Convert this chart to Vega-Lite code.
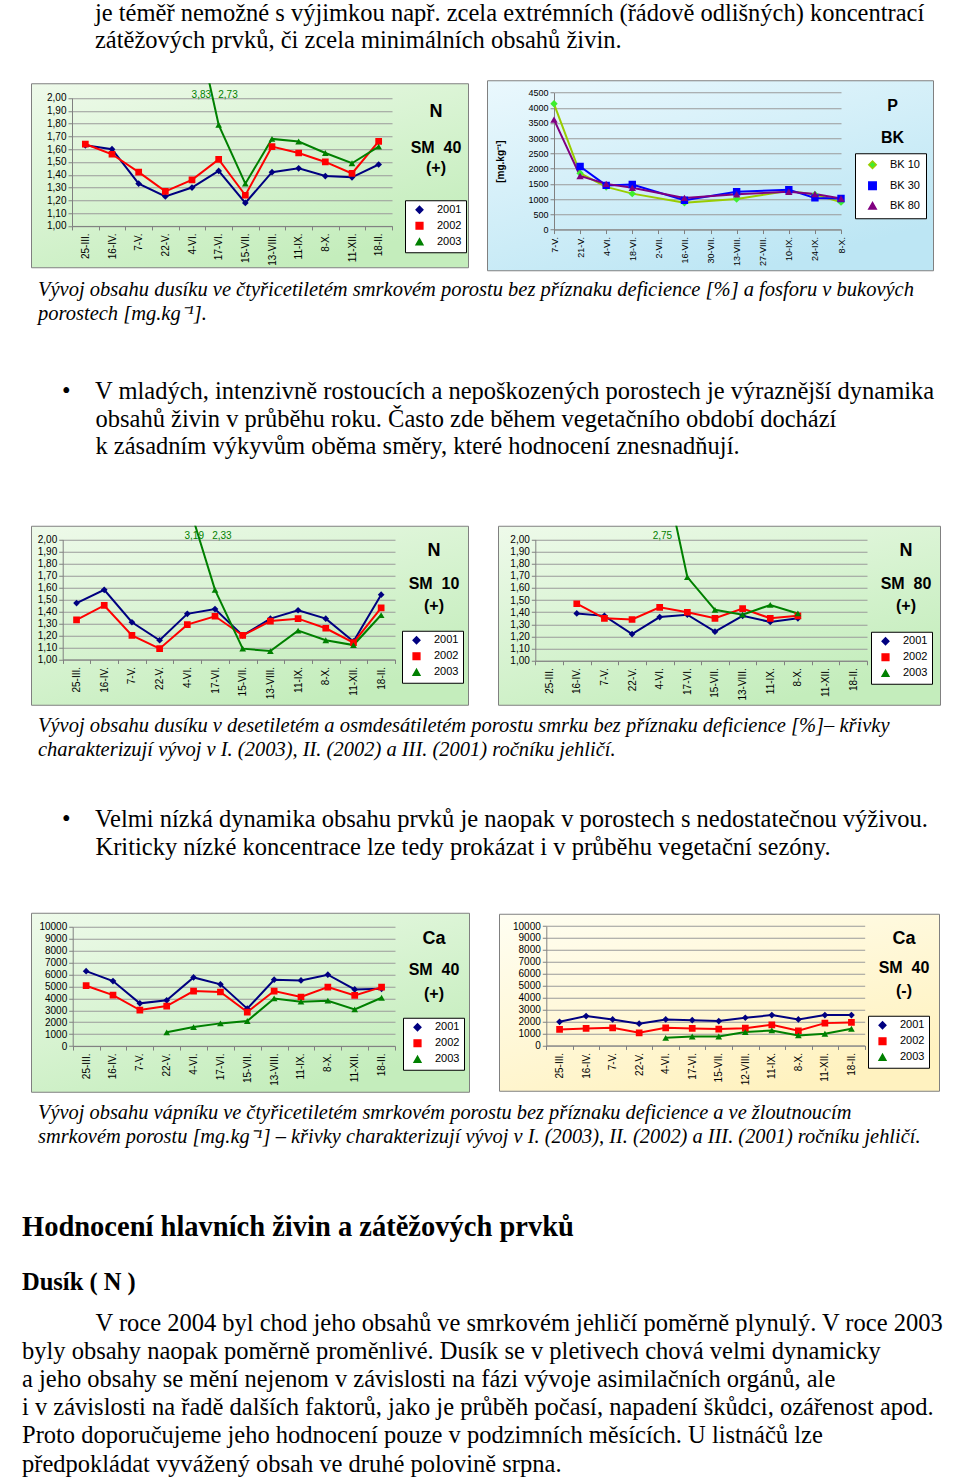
{
"$schema": "https://vega.github.io/schema/vega-lite/v6.json",
"background": "white",
"padding": {"left": 22, "top": 1, "right": 0, "bottom": 0},
"autosize": {"type": "pad"},
"config": {"view": {"stroke": null}, "font": "Liberation Sans", "locale": {"number": {"decimal": ",", "thousands": "\u00a0", "grouping": [3], "currency": ["", " Kč"]}}},
"datasets": {
"n40": [
{"d":"25-III.","s":"2001","v":1.63},{"d":"16-IV.","s":"2001","v":1.6},{"d":"7-V.","s":"2001","v":1.33},{"d":"22-V.","s":"2001","v":1.23},{"d":"4-VI.","s":"2001","v":1.3},{"d":"17-VI.","s":"2001","v":1.43},{"d":"15-VII.","s":"2001","v":1.18},{"d":"13-VIII.","s":"2001","v":1.42},{"d":"11-IX.","s":"2001","v":1.45},{"d":"8-X.","s":"2001","v":1.39},{"d":"11-XII.","s":"2001","v":1.38},{"d":"18-II.","s":"2001","v":1.48},
{"d":"25-III.","s":"2002","v":1.64},{"d":"16-IV.","s":"2002","v":1.56},{"d":"7-V.","s":"2002","v":1.42},{"d":"22-V.","s":"2002","v":1.27},{"d":"4-VI.","s":"2002","v":1.36},{"d":"17-VI.","s":"2002","v":1.52},{"d":"15-VII.","s":"2002","v":1.24},{"d":"13-VIII.","s":"2002","v":1.62},{"d":"11-IX.","s":"2002","v":1.57},{"d":"8-X.","s":"2002","v":1.5},{"d":"11-XII.","s":"2002","v":1.41},{"d":"18-II.","s":"2002","v":1.66},
{"d":"22-V.","s":"2003","v":3.83},{"d":"4-VI.","s":"2003","v":2.73},{"d":"17-VI.","s":"2003","v":1.79},{"d":"15-VII.","s":"2003","v":1.33},{"d":"13-VIII.","s":"2003","v":1.68},{"d":"11-IX.","s":"2003","v":1.66},{"d":"8-X.","s":"2003","v":1.57},{"d":"11-XII.","s":"2003","v":1.49},{"d":"18-II.","s":"2003","v":1.62}
],
"p": [
{"d":"7-V.","s":"BK 10","v":4130},{"d":"21-V.","s":"BK 10","v":1850},{"d":"4-VI.","s":"BK 10","v":1400},{"d":"18-VI.","s":"BK 10","v":1180},{"d":"16-VII.","s":"BK 10","v":880},{"d":"13-VIII.","s":"BK 10","v":1000},{"d":"10-IX.","s":"BK 10","v":1270},{"d":"24-IX.","s":"BK 10","v":1150},{"d":"8-X.","s":"BK 10","v":900},
{"d":"21-V.","s":"BK 30","v":2070},{"d":"4-VI.","s":"BK 30","v":1450},{"d":"18-VI.","s":"BK 30","v":1480},{"d":"16-VII.","s":"BK 30","v":960},{"d":"13-VIII.","s":"BK 30","v":1240},{"d":"10-IX.","s":"BK 30","v":1310},{"d":"24-IX.","s":"BK 30","v":1040},{"d":"8-X.","s":"BK 30","v":1020},
{"d":"7-V.","s":"BK 80","v":3610},{"d":"21-V.","s":"BK 80","v":1760},{"d":"4-VI.","s":"BK 80","v":1500},{"d":"18-VI.","s":"BK 80","v":1370},{"d":"16-VII.","s":"BK 80","v":1040},{"d":"13-VIII.","s":"BK 80","v":1160},{"d":"10-IX.","s":"BK 80","v":1240},{"d":"24-IX.","s":"BK 80","v":1170},{"d":"8-X.","s":"BK 80","v":1020}
],
"n10": [
{"d":"25-III.","s":"2001","v":1.47},{"d":"16-IV.","s":"2001","v":1.58},{"d":"7-V.","s":"2001","v":1.31},{"d":"22-V.","s":"2001","v":1.16},{"d":"4-VI.","s":"2001","v":1.38},{"d":"17-VI.","s":"2001","v":1.42},{"d":"15-VII.","s":"2001","v":1.2},{"d":"13-VIII.","s":"2001","v":1.34},{"d":"11-IX.","s":"2001","v":1.41},{"d":"8-X.","s":"2001","v":1.34},{"d":"11-XII.","s":"2001","v":1.15},{"d":"18-II.","s":"2001","v":1.54},
{"d":"25-III.","s":"2002","v":1.33},{"d":"16-IV.","s":"2002","v":1.45},{"d":"7-V.","s":"2002","v":1.2},{"d":"22-V.","s":"2002","v":1.09},{"d":"4-VI.","s":"2002","v":1.29},{"d":"17-VI.","s":"2002","v":1.36},{"d":"15-VII.","s":"2002","v":1.2},{"d":"13-VIII.","s":"2002","v":1.32},{"d":"11-IX.","s":"2002","v":1.34},{"d":"8-X.","s":"2002","v":1.26},{"d":"11-XII.","s":"2002","v":1.14},{"d":"18-II.","s":"2002","v":1.43},
{"d":"22-V.","s":"2003","v":3.19},{"d":"4-VI.","s":"2003","v":2.33},{"d":"17-VI.","s":"2003","v":1.58},{"d":"15-VII.","s":"2003","v":1.09},{"d":"13-VIII.","s":"2003","v":1.07},{"d":"11-IX.","s":"2003","v":1.24},{"d":"8-X.","s":"2003","v":1.16},{"d":"11-XII.","s":"2003","v":1.12},{"d":"18-II.","s":"2003","v":1.37}
],
"n80": [
{"d":"16-IV.","s":"2001","v":1.39},{"d":"7-V.","s":"2001","v":1.37},{"d":"22-V.","s":"2001","v":1.22},{"d":"4-VI.","s":"2001","v":1.36},{"d":"17-VI.","s":"2001","v":1.38},{"d":"15-VII.","s":"2001","v":1.24},{"d":"13-VIII.","s":"2001","v":1.37},{"d":"11-IX.","s":"2001","v":1.32},{"d":"8-X.","s":"2001","v":1.35},
{"d":"16-IV.","s":"2002","v":1.47},{"d":"7-V.","s":"2002","v":1.35},{"d":"22-V.","s":"2002","v":1.34},{"d":"4-VI.","s":"2002","v":1.44},{"d":"17-VI.","s":"2002","v":1.4},{"d":"15-VII.","s":"2002","v":1.35},{"d":"13-VIII.","s":"2002","v":1.43},{"d":"11-IX.","s":"2002","v":1.35},{"d":"8-X.","s":"2002","v":1.37},
{"d":"4-VI.","s":"2003","v":2.75},{"d":"17-VI.","s":"2003","v":1.69},{"d":"15-VII.","s":"2003","v":1.42},{"d":"13-VIII.","s":"2003","v":1.38},{"d":"11-IX.","s":"2003","v":1.46},{"d":"8-X.","s":"2003","v":1.39}
],
"ca40p": [
{"d":"25-III.","s":"2001","v":6280},{"d":"16-IV.","s":"2001","v":5450},{"d":"7-V.","s":"2001","v":3580},{"d":"22-V.","s":"2001","v":3830},{"d":"4-VI.","s":"2001","v":5750},{"d":"17-VI.","s":"2001","v":5170},{"d":"15-VII.","s":"2001","v":3130},{"d":"13-VIII.","s":"2001","v":5560},{"d":"11-IX.","s":"2001","v":5500},{"d":"8-X.","s":"2001","v":5980},{"d":"11-XII.","s":"2001","v":4750},{"d":"18-II.","s":"2001","v":4800},
{"d":"25-III.","s":"2002","v":5060},{"d":"16-IV.","s":"2002","v":4270},{"d":"7-V.","s":"2002","v":3020},{"d":"22-V.","s":"2002","v":3350},{"d":"4-VI.","s":"2002","v":4610},{"d":"17-VI.","s":"2002","v":4530},{"d":"15-VII.","s":"2002","v":2850},{"d":"13-VIII.","s":"2002","v":4610},{"d":"11-IX.","s":"2002","v":4110},{"d":"8-X.","s":"2002","v":4940},{"d":"11-XII.","s":"2002","v":4250},{"d":"18-II.","s":"2002","v":4940},
{"d":"22-V.","s":"2003","v":1150},{"d":"4-VI.","s":"2003","v":1590},{"d":"17-VI.","s":"2003","v":1900},{"d":"15-VII.","s":"2003","v":2100},{"d":"13-VIII.","s":"2003","v":3990},{"d":"11-IX.","s":"2003","v":3720},{"d":"8-X.","s":"2003","v":3800},{"d":"11-XII.","s":"2003","v":3070},{"d":"18-II.","s":"2003","v":4050}
],
"ca40m": [
{"d":"25-III.","s":"2001","v":1980},{"d":"16-IV.","s":"2001","v":2460},{"d":"7-V.","s":"2001","v":2180},{"d":"22-V.","s":"2001","v":1820},{"d":"4-VI.","s":"2001","v":2180},{"d":"17-VI.","s":"2001","v":2120},{"d":"15-VII.","s":"2001","v":2040},{"d":"12-VIII.","s":"2001","v":2320},{"d":"11-IX.","s":"2001","v":2540},{"d":"8-X.","s":"2001","v":2180},{"d":"11-XII.","s":"2001","v":2540},{"d":"18-II.","s":"2001","v":2540},
{"d":"25-III.","s":"2002","v":1340},{"d":"16-IV.","s":"2002","v":1430},{"d":"7-V.","s":"2002","v":1480},{"d":"22-V.","s":"2002","v":1060},{"d":"4-VI.","s":"2002","v":1480},{"d":"17-VI.","s":"2002","v":1430},{"d":"15-VII.","s":"2002","v":1370},{"d":"12-VIII.","s":"2002","v":1450},{"d":"11-IX.","s":"2002","v":1730},{"d":"8-X.","s":"2002","v":1230},{"d":"11-XII.","s":"2002","v":1870},{"d":"18-II.","s":"2002","v":1930},
{"d":"4-VI.","s":"2003","v":640},{"d":"17-VI.","s":"2003","v":750},{"d":"15-VII.","s":"2003","v":750},{"d":"12-VIII.","s":"2003","v":1120},{"d":"11-IX.","s":"2003","v":1260},{"d":"8-X.","s":"2003","v":840},{"d":"11-XII.","s":"2003","v":980},{"d":"18-II.","s":"2003","v":1400}
]
},
"resolve": {"scale": {"fill": "independent", "shape": "independent", "stroke": "independent", "color": "independent"}},
"spacing": 45.5,
"vconcat": [
  {
    "resolve": {"scale": {"fill": "independent", "shape": "independent", "stroke": "independent", "color": "independent"}},
    "spacing": 53.5,
    "vconcat": [
      {
        "resolve": {"scale": {"fill": "independent", "shape": "independent", "stroke": "independent", "color": "independent"}},
        "title": {"text": ["je téměř nemožné s výjimkou např. zcela extrémních (řádově odlišných) koncentrací", "zátěžových prvků, či zcela minimálních obsahů živin."], "orient": "top", "anchor": "start", "frame": "group", "font": "Liberation Serif", "fontSize": 24.5, "fontWeight": "normal", "color": "black", "lineHeight": 26.7, "offset": 26.3, "dx": 64},
        "vconcat": [
          {
            "resolve": {"scale": {"fill": "independent", "shape": "independent", "stroke": "independent", "color": "independent"}},
            "title": {"text": ["Vývoj obsahu dusíku ve čtyřicetiletém smrkovém porostu bez příznaku deficience [%] a fosforu v bukových", "porostech [mg.kg⁻¹]."], "orient": "bottom", "anchor": "start", "frame": "group", "font": "Liberation Serif", "fontSize": 20.5, "fontStyle": "italic", "fontWeight": "normal", "color": "black", "lineHeight": 24, "offset": 9.3, "dx": 7},
            "spacing": 17,
            "center": true,
            "hconcat": [
              {
                "width": 437, "height": 184,
                "view": {"fill": {"gradient": "linear", "x1": 0, "y1": 0, "x2": 0.6, "y2": 1, "stops": [{"offset": 0, "color": "#eefaea"}, {"offset": 1, "color": "#c4edbc"}]}, "stroke": "#808080"},
                "title": {"text": "N", "subtitle": ["SM \u00a040", "(+)"], "orient": "top", "anchor": "end", "align": "center", "frame": "group", "dx": -32, "offset": -92.7, "font": "Liberation Sans", "fontSize": 18, "fontWeight": "bold", "color": "black", "subtitleFont": "Liberation Sans", "subtitleFontSize": 16, "subtitleFontWeight": "bold", "subtitleColor": "black", "subtitlePadding": 19.3, "subtitleLineHeight": 20},
                "data": {"name": "n40"},
                "encoding": {
                  "x": {"field": "d", "type": "nominal", "sort": ["25-III.","16-IV.","7-V.","22-V.","4-VI.","17-VI.","15-VII.","13-VIII.","11-IX.","8-X.","11-XII.","18-II."], "scale": {"type": "band", "domain": ["25-III.","16-IV.","7-V.","22-V.","4-VI.","17-VI.","15-VII.","13-VIII.","11-IX.","8-X.","11-XII.","18-II."], "range": [41, 361], "paddingInner": 0, "paddingOuter": 0}, "axis": {"orient": "bottom", "offset": -41.3, "labelAngle": -90, "labelFont": "Liberation Sans", "labelFontSize": 10, "labelColor": "black", "labelPadding": 3, "tickBand": "extent", "tickSize": 4, "tickColor": "#808080", "domainColor": "#808080", "grid": false, "title": null, "labelOverlap": false}},
                  "y": {"field": "v", "type": "quantitative", "scale": {"domain": [1, 2], "range": [142.7, 14.7], "nice": false, "zero": false}, "axis": {"orient": "left", "offset": -41, "values": [1,1.1,1.2,1.3,1.4,1.5,1.6,1.7,1.8,1.9,2], "labelExpr": "replace(format(datum.value, '.2f'), '.', ',')", "labelFont": "Liberation Sans", "labelFontSize": 10, "labelColor": "black", "labelPadding": 2, "tickSize": 4, "tickColor": "#808080", "domainColor": "#808080", "grid": true, "gridColor": "#9a9a9a", "title": null, "labelOverlap": false}}
                },
                "layer": [
                  {"mark": {"type": "line", "clip": true, "strokeWidth": 2}, "encoding": {"stroke": {"field": "s", "type": "nominal", "scale": {"domain": ["2001","2002","2003"], "range": ["#000080","#ff0000","#008000"]}, "legend": {"orient": "none", "legendX": 374, "legendY": 117, "title": null, "fillColor": "white", "strokeColor": "black", "padding": 4, "rowPadding": 3, "symbolSize": 45, "symbolOffset": 5, "labelOffset": 12, "labelFontSize": 11, "labelColor": "black"}}}},
                  {"mark": {"type": "point", "filled": true, "clip": true, "size": 45, "opacity": 1}, "encoding": {"fill": {"field": "s", "type": "nominal", "scale": {"domain": ["2001","2002","2003"], "range": ["#000080","#ff0000","#008000"]}, "legend": null}, "shape": {"field": "s", "type": "nominal", "scale": {"domain": ["2001","2002","2003"], "range": ["diamond","square","triangle-up"]}, "legend": null}}},
                  {"transform": [{"filter": "datum.v > 2"}], "mark": {"type": "text", "fontSize": 10, "fill": "#008000", "align": "center", "baseline": "alphabetic"}, "encoding": {
                    "x": {"field": "d", "type": "nominal", "bandPosition": 1.85, "sort": ["25-III.","16-IV.","7-V.","22-V.","4-VI.","17-VI.","15-VII.","13-VIII.","11-IX.","8-X.","11-XII.","18-II."], "scale": {"type": "band", "domain": ["25-III.","16-IV.","7-V.","22-V.","4-VI.","17-VI.","15-VII.","13-VIII.","11-IX.","8-X.","11-XII.","18-II."], "range": [41, 361], "paddingInner": 0, "paddingOuter": 0}, "axis": {"orient": "bottom", "offset": -41.3, "labelAngle": -90, "labelFont": "Liberation Sans", "labelFontSize": 10, "labelColor": "black", "labelPadding": 3, "tickBand": "extent", "tickSize": 4, "tickColor": "#808080", "domainColor": "#808080", "grid": false, "title": null, "labelOverlap": false}},
                    "y": {"datum": 2},
                    "text": {"field": "v", "type": "quantitative", "format": ".2f"}}}
                ]
              },
              {
                "width": 446, "height": 190,
                "view": {"fill": {"gradient": "linear", "x1": 0, "y1": 0, "x2": 0.6, "y2": 1, "stops": [{"offset": 0, "color": "#eaf8fd"}, {"offset": 1, "color": "#bde6f4"}]}, "stroke": "#808080"},
                "title": {"text": "P", "subtitle": "BK", "orient": "top", "anchor": "end", "align": "center", "frame": "group", "dx": -40.5, "offset": -65.7, "font": "Liberation Sans", "fontSize": 16, "fontWeight": "bold", "color": "black", "subtitleFont": "Liberation Sans", "subtitleFontSize": 16, "subtitleFontWeight": "bold", "subtitleColor": "black", "subtitlePadding": 16},
                "data": {"name": "p"},
                "encoding": {
                  "x": {"field": "d", "type": "nominal", "sort": ["7-V.","21-V.","4-VI.","18-VI.","2-VII.","16-VII.","30-VII.","13-VIII.","27-VIII.","10-IX.","24-IX.","8-X."], "scale": {"type": "point", "domain": ["7-V.","21-V.","4-VI.","18-VI.","2-VII.","16-VII.","30-VII.","13-VIII.","27-VIII.","10-IX.","24-IX.","8-X."], "range": [67, 354], "padding": 0}, "axis": {"orient": "bottom", "offset": -40.7, "labelAngle": -90, "labelFont": "Liberation Sans", "labelFontSize": 9, "labelColor": "black", "labelPadding": 3, "tickSize": 4, "tickColor": "#808080", "domainColor": "#808080", "grid": false, "title": null, "labelOverlap": false}},
                  "y": {"field": "v", "type": "quantitative", "scale": {"domain": [0, 4500], "range": [149.3, 12.3], "nice": false}, "axis": {"orient": "left", "offset": -67, "values": [0,500,1000,1500,2000,2500,3000,3500,4000,4500], "format": "d", "labelFont": "Liberation Sans", "labelFontSize": 9, "labelColor": "black", "labelPadding": 2, "tickSize": 4, "tickColor": "#808080", "domainColor": "#808080", "grid": true, "gridColor": "#9a9a9a", "title": "[mg.kg⁻¹]", "titleFont": "Liberation Sans", "titleFontSize": 10, "titleFontWeight": "bold", "titleColor": "black", "titlePadding": 22, "labelOverlap": false}}
                },
                "layer": [
                  {"mark": {"type": "line", "clip": true, "strokeWidth": 2}, "encoding": {"stroke": {"field": "s", "type": "nominal", "scale": {"domain": ["BK 10","BK 30","BK 80"], "range": ["#99cc00","#0000ff","#800080"]}, "legend": {"orient": "none", "legendX": 368, "legendY": 73, "title": null, "fillColor": "white", "strokeColor": "black", "padding": 6, "rowPadding": 6, "symbolSize": 55, "symbolOffset": 6, "labelOffset": 12, "labelFontSize": 11, "labelColor": "black"}}}},
                  {"mark": {"type": "point", "filled": true, "clip": true, "size": 55, "opacity": 1}, "encoding": {"fill": {"field": "s", "type": "nominal", "scale": {"domain": ["BK 10","BK 30","BK 80"], "range": ["#3dee2e","#0000ff","#800080"]}, "legend": null}, "shape": {"field": "s", "type": "nominal", "scale": {"domain": ["BK 10","BK 30","BK 80"], "range": ["diamond","square","triangle-up"]}, "legend": null}}}
                ]
              }
            ]
          }
        ]
      },
      {
        "resolve": {"scale": {"fill": "independent", "shape": "independent", "stroke": "independent", "color": "independent"}},
        "title": {"text": ["•\u2003V mladých, intenzivně rostoucích a nepoškozených porostech je výraznější dynamika", "\u200b\u2003\u2009\u2006obsahů živin v průběhu roku. Často zde během vegetačního období dochází", "\u200b\u2003\u2009\u2006k zásadním výkyvům oběma směry, které hodnocení znesnadňují."], "orient": "top", "anchor": "start", "frame": "group", "font": "Liberation Serif", "fontSize": 24.5, "fontWeight": "normal", "color": "black", "lineHeight": 27.5, "offset": 65.3, "dx": 31},
        "vconcat": [
          {
            "resolve": {"scale": {"fill": "independent", "shape": "independent", "stroke": "independent", "color": "independent"}},
            "title": {"text": ["Vývoj obsahu dusíku  v desetiletém a osmdesátiletém porostu smrku bez příznaku deficience [%]– křivky", "charakterizují vývoj v I. (2003), II. (2002) a III. (2001) ročníku jehličí."], "orient": "bottom", "anchor": "start", "frame": "group", "font": "Liberation Serif", "fontSize": 20.5, "fontStyle": "italic", "fontWeight": "normal", "color": "black", "lineHeight": 24, "offset": 11, "dx": 7},
            "spacing": 23,
            "center": true,
            "hconcat": [
              {
                "width": 437, "height": 179,
                "view": {"fill": {"gradient": "linear", "x1": 0, "y1": 0, "x2": 0.6, "y2": 1, "stops": [{"offset": 0, "color": "#eefaea"}, {"offset": 1, "color": "#c4edbc"}]}, "stroke": "#808080"},
                "title": {"text": "N", "subtitle": ["SM \u00a010", "(+)"], "orient": "top", "anchor": "end", "align": "center", "frame": "group", "dx": -34, "offset": -88.7, "font": "Liberation Sans", "fontSize": 18, "fontWeight": "bold", "color": "black", "subtitleFont": "Liberation Sans", "subtitleFontSize": 16, "subtitleFontWeight": "bold", "subtitleColor": "black", "subtitlePadding": 16.3, "subtitleLineHeight": 22},
                "data": {"name": "n10"},
                "encoding": {
                  "x": {"field": "d", "type": "nominal", "sort": ["25-III.","16-IV.","7-V.","22-V.","4-VI.","17-VI.","15-VII.","13-VIII.","11-IX.","8-X.","11-XII.","18-II."], "scale": {"type": "band", "domain": ["25-III.","16-IV.","7-V.","22-V.","4-VI.","17-VI.","15-VII.","13-VIII.","11-IX.","8-X.","11-XII.","18-II."], "range": [31.7, 364], "paddingInner": 0, "paddingOuter": 0}, "axis": {"orient": "bottom", "offset": -45.3, "labelAngle": -90, "labelFont": "Liberation Sans", "labelFontSize": 10, "labelColor": "black", "labelPadding": 3, "tickBand": "extent", "tickSize": 4, "tickColor": "#808080", "domainColor": "#808080", "grid": false, "title": null, "labelOverlap": false}},
                  "y": {"field": "v", "type": "quantitative", "scale": {"domain": [1, 2], "range": [133.7, 13.7], "nice": false, "zero": false}, "axis": {"orient": "left", "offset": -31.7, "values": [1,1.1,1.2,1.3,1.4,1.5,1.6,1.7,1.8,1.9,2], "labelExpr": "replace(format(datum.value, '.2f'), '.', ',')", "labelFont": "Liberation Sans", "labelFontSize": 10, "labelColor": "black", "labelPadding": 2, "tickSize": 4, "tickColor": "#808080", "domainColor": "#808080", "grid": true, "gridColor": "#9a9a9a", "title": null, "labelOverlap": false}}
                },
                "layer": [
                  {"mark": {"type": "line", "clip": true, "strokeWidth": 2}, "encoding": {"stroke": {"field": "s", "type": "nominal", "scale": {"domain": ["2001","2002","2003"], "range": ["#000080","#ff0000","#008000"]}, "legend": {"orient": "none", "legendX": 371, "legendY": 105, "title": null, "fillColor": "white", "strokeColor": "black", "padding": 4, "rowPadding": 3, "symbolSize": 45, "symbolOffset": 5, "labelOffset": 12, "labelFontSize": 11, "labelColor": "black"}}}},
                  {"mark": {"type": "point", "filled": true, "clip": true, "size": 45, "opacity": 1}, "encoding": {"fill": {"field": "s", "type": "nominal", "scale": {"domain": ["2001","2002","2003"], "range": ["#000080","#ff0000","#008000"]}, "legend": null}, "shape": {"field": "s", "type": "nominal", "scale": {"domain": ["2001","2002","2003"], "range": ["diamond","square","triangle-up"]}, "legend": null}}},
                  {"transform": [{"filter": "datum.v > 2"}], "mark": {"type": "text", "fontSize": 10, "fill": "#008000", "align": "center", "baseline": "alphabetic"}, "encoding": {
                    "x": {"field": "d", "type": "nominal", "bandPosition": 1.75, "sort": ["25-III.","16-IV.","7-V.","22-V.","4-VI.","17-VI.","15-VII.","13-VIII.","11-IX.","8-X.","11-XII.","18-II."], "scale": {"type": "band", "domain": ["25-III.","16-IV.","7-V.","22-V.","4-VI.","17-VI.","15-VII.","13-VIII.","11-IX.","8-X.","11-XII.","18-II."], "range": [31.7, 364], "paddingInner": 0, "paddingOuter": 0}, "axis": {"orient": "bottom", "offset": -45.3, "labelAngle": -90, "labelFont": "Liberation Sans", "labelFontSize": 10, "labelColor": "black", "labelPadding": 3, "tickBand": "extent", "tickSize": 4, "tickColor": "#808080", "domainColor": "#808080", "grid": false, "title": null, "labelOverlap": false}},
                    "y": {"datum": 2},
                    "text": {"field": "v", "type": "quantitative", "format": ".2f"}}}
                ]
              },
              {
                "width": 442, "height": 179,
                "view": {"fill": {"gradient": "linear", "x1": 0, "y1": 0, "x2": 0.6, "y2": 1, "stops": [{"offset": 0, "color": "#eefaea"}, {"offset": 1, "color": "#c4edbc"}]}, "stroke": "#808080"},
                "title": {"text": "N", "subtitle": ["SM \u00a080", "(+)"], "orient": "top", "anchor": "end", "align": "center", "frame": "group", "dx": -34, "offset": -88.7, "font": "Liberation Sans", "fontSize": 18, "fontWeight": "bold", "color": "black", "subtitleFont": "Liberation Sans", "subtitleFontSize": 16, "subtitleFontWeight": "bold", "subtitleColor": "black", "subtitlePadding": 16.3, "subtitleLineHeight": 22},
                "data": {"name": "n80"},
                "encoding": {
                  "x": {"field": "d", "type": "nominal", "sort": ["25-III.","16-IV.","7-V.","22-V.","4-VI.","17-VI.","15-VII.","13-VIII.","11-IX.","8-X.","11-XII.","18-II."], "scale": {"type": "band", "domain": ["25-III.","16-IV.","7-V.","22-V.","4-VI.","17-VI.","15-VII.","13-VIII.","11-IX.","8-X.","11-XII.","18-II."], "range": [37.3, 369], "paddingInner": 0, "paddingOuter": 0}, "axis": {"orient": "bottom", "offset": -44, "labelAngle": -90, "labelFont": "Liberation Sans", "labelFontSize": 10, "labelColor": "black", "labelPadding": 3, "tickBand": "extent", "tickSize": 4, "tickColor": "#808080", "domainColor": "#808080", "grid": false, "title": null, "labelOverlap": false}},
                  "y": {"field": "v", "type": "quantitative", "scale": {"domain": [1, 2], "range": [135, 13.7], "nice": false, "zero": false}, "axis": {"orient": "left", "offset": -37.3, "values": [1,1.1,1.2,1.3,1.4,1.5,1.6,1.7,1.8,1.9,2], "labelExpr": "replace(format(datum.value, '.2f'), '.', ',')", "labelFont": "Liberation Sans", "labelFontSize": 10, "labelColor": "black", "labelPadding": 2, "tickSize": 4, "tickColor": "#808080", "domainColor": "#808080", "grid": true, "gridColor": "#9a9a9a", "title": null, "labelOverlap": false}}
                },
                "layer": [
                  {"mark": {"type": "line", "clip": true, "strokeWidth": 2}, "encoding": {"stroke": {"field": "s", "type": "nominal", "scale": {"domain": ["2001","2002","2003"], "range": ["#000080","#ff0000","#008000"]}, "legend": {"orient": "none", "legendX": 373, "legendY": 106, "title": null, "fillColor": "white", "strokeColor": "black", "padding": 4, "rowPadding": 3, "symbolSize": 45, "symbolOffset": 5, "labelOffset": 12, "labelFontSize": 11, "labelColor": "black"}}}},
                  {"mark": {"type": "point", "filled": true, "clip": true, "size": 45, "opacity": 1}, "encoding": {"fill": {"field": "s", "type": "nominal", "scale": {"domain": ["2001","2002","2003"], "range": ["#000080","#ff0000","#008000"]}, "legend": null}, "shape": {"field": "s", "type": "nominal", "scale": {"domain": ["2001","2002","2003"], "range": ["diamond","square","triangle-up"]}, "legend": null}}},
                  {"transform": [{"filter": "datum.v > 2"}], "mark": {"type": "text", "fontSize": 10, "fill": "#008000", "align": "center", "baseline": "alphabetic"}, "encoding": {
                    "x": {"field": "d", "type": "nominal", "bandPosition": 0.6, "sort": ["25-III.","16-IV.","7-V.","22-V.","4-VI.","17-VI.","15-VII.","13-VIII.","11-IX.","8-X.","11-XII.","18-II."], "scale": {"type": "band", "domain": ["25-III.","16-IV.","7-V.","22-V.","4-VI.","17-VI.","15-VII.","13-VIII.","11-IX.","8-X.","11-XII.","18-II."], "range": [37.3, 369], "paddingInner": 0, "paddingOuter": 0}, "axis": {"orient": "bottom", "offset": -44, "labelAngle": -90, "labelFont": "Liberation Sans", "labelFontSize": 10, "labelColor": "black", "labelPadding": 3, "tickBand": "extent", "tickSize": 4, "tickColor": "#808080", "domainColor": "#808080", "grid": false, "title": null, "labelOverlap": false}},
                    "y": {"datum": 2},
                    "text": {"field": "v", "type": "quantitative", "format": ".2f"}}}
                ]
              }
            ]
          }
        ]
      }
    ]
  },
  {
    "resolve": {"scale": {"fill": "independent", "shape": "independent", "stroke": "independent", "color": "independent"}},
    "title": {"text": ["•\u2003Velmi nízká dynamika obsahu prvků je naopak v porostech s nedostatečnou výživou.", "\u200b\u2003\u2009\u2006Kriticky nízké koncentrace lze tedy prokázat i v průběhu vegetační sezóny."], "orient": "top", "anchor": "start", "frame": "group", "font": "Liberation Serif", "fontSize": 24.5, "fontWeight": "normal", "color": "black", "lineHeight": 28, "offset": 52, "dx": 31},
    "vconcat": [
      {
        "resolve": {"scale": {"fill": "independent", "shape": "independent", "stroke": "independent", "color": "independent"}},
        "title": {"text": ["\u200b\u2003\u2003\u2003V roce 2004 byl chod jeho obsahů ve smrkovém jehličí poměrně plynulý. V roce 2003", "byly obsahy naopak poměrně proměnlivé. Dusík se v pletivech chová velmi dynamicky", "a jeho obsahy se mění nejenom v závislosti na fázi vývoje asimilačních orgánů, ale", "i v závislosti na řadě dalších faktorů, jako je průběh počasí, napadení škůdci, ozářenost apod.", "Proto doporučujeme jeho hodnocení pouze v podzimních měsících. U listnáčů lze", "předpokládat vyvážený obsah ve druhé polovině srpna."], "orient": "bottom", "anchor": "start", "frame": "group", "font": "Liberation Serif", "fontSize": 24.5, "fontWeight": "normal", "color": "black", "lineHeight": 28.2, "offset": 17.5, "dx": -9},
        "vconcat": [
          {
            "resolve": {"scale": {"fill": "independent", "shape": "independent", "stroke": "independent", "color": "independent"}},
            "title": {"text": "Hodnocení hlavních živin a zátěžových prvků", "subtitle": "Dusík ( N )", "orient": "bottom", "anchor": "start", "frame": "group", "font": "Liberation Serif", "fontSize": 28.5, "fontWeight": "bold", "color": "black", "subtitleFont": "Liberation Serif", "subtitleFontSize": 24.5, "subtitleFontWeight": "bold", "subtitleColor": "black", "subtitlePadding": 29.5, "offset": 65, "dx": -9},
            "vconcat": [
              {
                "resolve": {"scale": {"fill": "independent", "shape": "independent", "stroke": "independent", "color": "independent"}},
                "title": {"text": ["Vývoj obsahu vápníku ve čtyřicetiletém smrkovém porostu bez příznaku deficience a ve žloutnoucím", "smrkovém porostu [mg.kg⁻¹] – křivky charakterizují vývoj v I. (2003), II. (2002) a III. (2001) ročníku jehličí."], "orient": "bottom", "anchor": "start", "frame": "group", "font": "Liberation Serif", "fontSize": 20.4, "fontStyle": "italic", "fontWeight": "normal", "color": "black", "lineHeight": 24, "offset": 11, "dx": 7},
                "spacing": 23,
                "center": true,
                "hconcat": [
                  {
                    "width": 438, "height": 179,
                    "view": {"fill": {"gradient": "linear", "x1": 0, "y1": 0, "x2": 0.6, "y2": 1, "stops": [{"offset": 0, "color": "#eefaea"}, {"offset": 1, "color": "#c4edbc"}]}, "stroke": "#808080"},
                    "title": {"text": "Ca", "subtitle": ["SM \u00a040", "(+)"], "orient": "top", "anchor": "end", "align": "center", "frame": "group", "dx": -35, "offset": -89.7, "font": "Liberation Sans", "fontSize": 18, "fontWeight": "bold", "color": "black", "subtitleFont": "Liberation Sans", "subtitleFontSize": 16, "subtitleFontWeight": "bold", "subtitleColor": "black", "subtitlePadding": 14.3, "subtitleLineHeight": 24},
                    "data": {"name": "ca40p"},
                    "encoding": {
                      "x": {"field": "d", "type": "nominal", "sort": ["25-III.","16-IV.","7-V.","22-V.","4-VI.","17-VI.","15-VII.","13-VIII.","11-IX.","8-X.","11-XII.","18-II."], "scale": {"type": "band", "domain": ["25-III.","16-IV.","7-V.","22-V.","4-VI.","17-VI.","15-VII.","13-VIII.","11-IX.","8-X.","11-XII.","18-II."], "range": [41.7, 364], "paddingInner": 0, "paddingOuter": 0}, "axis": {"orient": "bottom", "offset": -45.7, "labelAngle": -90, "labelFont": "Liberation Sans", "labelFontSize": 10, "labelColor": "black", "labelPadding": 3, "tickBand": "extent", "tickSize": 4, "tickColor": "#808080", "domainColor": "#808080", "grid": false, "title": null, "labelOverlap": false}},
                      "y": {"field": "v", "type": "quantitative", "scale": {"domain": [0, 10000], "range": [133.3, 14], "nice": false}, "axis": {"orient": "left", "offset": -41.7, "values": [0,1000,2000,3000,4000,5000,6000,7000,8000,9000,10000], "format": "d", "labelFont": "Liberation Sans", "labelFontSize": 10, "labelColor": "black", "labelPadding": 2, "tickSize": 4, "tickColor": "#808080", "domainColor": "#808080", "grid": true, "gridColor": "#9a9a9a", "title": null, "labelOverlap": false}}
                    },
                    "layer": [
                      {"mark": {"type": "line", "clip": true, "strokeWidth": 2}, "encoding": {"stroke": {"field": "s", "type": "nominal", "scale": {"domain": ["2001","2002","2003"], "range": ["#000080","#ff0000","#008000"]}, "legend": {"orient": "none", "legendX": 372, "legendY": 105, "title": null, "fillColor": "white", "strokeColor": "black", "padding": 4, "rowPadding": 3, "symbolSize": 45, "symbolOffset": 5, "labelOffset": 12, "labelFontSize": 11, "labelColor": "black"}}}},
                      {"mark": {"type": "point", "filled": true, "clip": true, "size": 45, "opacity": 1}, "encoding": {"fill": {"field": "s", "type": "nominal", "scale": {"domain": ["2001","2002","2003"], "range": ["#000080","#ff0000","#008000"]}, "legend": null}, "shape": {"field": "s", "type": "nominal", "scale": {"domain": ["2001","2002","2003"], "range": ["diamond","square","triangle-up"]}, "legend": null}}}
                    ]
                  },
                  {
                    "width": 440, "height": 177,
                    "view": {"fill": {"gradient": "linear", "x1": 0, "y1": 0, "x2": 0.6, "y2": 1, "stops": [{"offset": 0, "color": "#fffef2"}, {"offset": 1, "color": "#fff2c0"}]}, "stroke": "#808080"},
                    "title": {"text": "Ca", "subtitle": ["SM \u00a040", "(-)"], "orient": "top", "anchor": "end", "align": "center", "frame": "group", "dx": -35, "offset": -85.7, "font": "Liberation Sans", "fontSize": 18, "fontWeight": "bold", "color": "black", "subtitleFont": "Liberation Sans", "subtitleFontSize": 16, "subtitleFontWeight": "bold", "subtitleColor": "black", "subtitlePadding": 12.3, "subtitleLineHeight": 23},
                    "data": {"name": "ca40m"},
                    "encoding": {
                      "x": {"field": "d", "type": "nominal", "sort": ["25-III.","16-IV.","7-V.","22-V.","4-VI.","17-VI.","15-VII.","12-VIII.","11-IX.","8-X.","11-XII.","18-II."], "scale": {"type": "band", "domain": ["25-III.","16-IV.","7-V.","22-V.","4-VI.","17-VI.","15-VII.","12-VIII.","11-IX.","8-X.","11-XII.","18-II."], "range": [47.3, 365.7], "paddingInner": 0, "paddingOuter": 0}, "axis": {"orient": "bottom", "offset": -45.3, "labelAngle": -90, "labelFont": "Liberation Sans", "labelFontSize": 10, "labelColor": "black", "labelPadding": 3, "tickBand": "extent", "tickSize": 4, "tickColor": "#808080", "domainColor": "#808080", "grid": false, "title": null, "labelOverlap": false}},
                      "y": {"field": "v", "type": "quantitative", "scale": {"domain": [0, 10000], "range": [131.7, 12.3], "nice": false}, "axis": {"orient": "left", "offset": -47.3, "values": [0,1000,2000,3000,4000,5000,6000,7000,8000,9000,10000], "format": "d", "labelFont": "Liberation Sans", "labelFontSize": 10, "labelColor": "black", "labelPadding": 2, "tickSize": 4, "tickColor": "#808080", "domainColor": "#808080", "grid": true, "gridColor": "#9a9a9a", "title": null, "labelOverlap": false}}
                    },
                    "layer": [
                      {"mark": {"type": "line", "clip": true, "strokeWidth": 2}, "encoding": {"stroke": {"field": "s", "type": "nominal", "scale": {"domain": ["2001","2002","2003"], "range": ["#000080","#ff0000","#008000"]}, "legend": {"orient": "none", "legendX": 369, "legendY": 102, "title": null, "fillColor": "white", "strokeColor": "black", "padding": 4, "rowPadding": 3, "symbolSize": 45, "symbolOffset": 5, "labelOffset": 12, "labelFontSize": 11, "labelColor": "black"}}}},
                      {"mark": {"type": "point", "filled": true, "clip": true, "size": 45, "opacity": 1}, "encoding": {"fill": {"field": "s", "type": "nominal", "scale": {"domain": ["2001","2002","2003"], "range": ["#000080","#ff0000","#008000"]}, "legend": null}, "shape": {"field": "s", "type": "nominal", "scale": {"domain": ["2001","2002","2003"], "range": ["diamond","square","triangle-up"]}, "legend": null}}}
                    ]
                  }
                ]
              }
            ]
          }
        ]
      }
    ]
  }
]
}
